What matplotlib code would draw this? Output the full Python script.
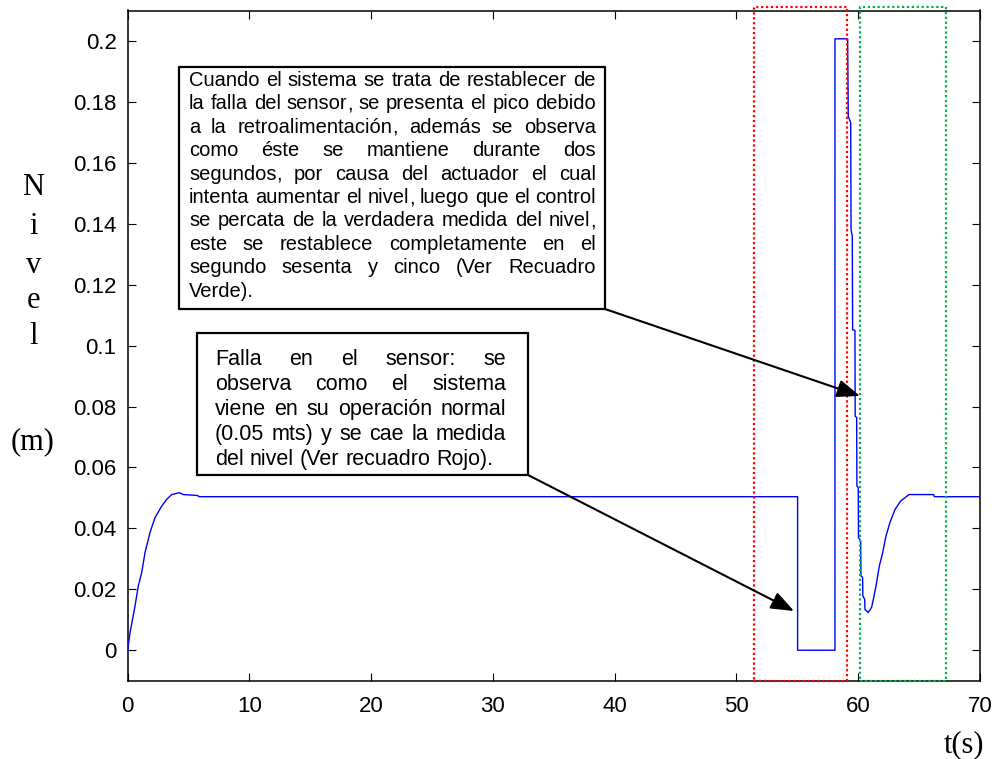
import matplotlib
matplotlib.use("Agg")
import matplotlib.pyplot as plt
from matplotlib.patches import Rectangle

# ---- data -------------------------------------------------------------
t = [0.0, 0.19, 0.60, 0.87, 1.15, 1.42, 1.83, 2.24, 2.79, 3.20, 3.61, 4.24,
     4.57, 5.72, 5.88, 55.02, 55.02, 58.09, 58.09, 59.13, 59.18, 59.38,
     59.41, 59.51, 59.54, 59.73, 59.75, 59.87, 59.89, 60.00, 60.02, 60.20,
     60.22, 60.36, 60.38, 60.53, 60.55, 60.82, 61.10, 61.24, 61.46, 61.73,
     62.01, 62.28, 62.61, 63.02, 63.49, 64.17, 66.20, 66.25, 70.0]
nivel = [0.0, 0.0058, 0.0145, 0.0211, 0.0255, 0.0320, 0.0386, 0.0435, 0.0473,
         0.0495, 0.0511, 0.0517, 0.0511, 0.0508, 0.0504, 0.0504, 0.0, 0.0,
         0.2007, 0.2007, 0.1752, 0.1732, 0.1380, 0.1358, 0.1052, 0.1050,
         0.0768, 0.0764, 0.0539, 0.0534, 0.0370, 0.0358, 0.0244, 0.0239,
         0.0178, 0.0167, 0.0134, 0.0124, 0.0141, 0.0167, 0.0211, 0.0276,
         0.0321, 0.0375, 0.0420, 0.0462, 0.0490, 0.0511, 0.0511, 0.0504, 0.0504]

x_ticks = [0, 10, 20, 30, 40, 50, 60, 70]
x_tick_labels = ["0", "10", "20", "30", "40", "50", "60", "70"]
y_ticks = [0, 0.02, 0.04, 0.06, 0.08, 0.10, 0.12, 0.14, 0.16, 0.18, 0.20]
y_tick_labels = ["0", "0.02", "0.04", "0.06", "0.08", "0.1", "0.12", "0.14",
                 "0.16", "0.18", "0.2"]

# highlighted time windows (s)
falla_window = (51.44, 59.05)
recuperacion_window = (60.14, 67.20)

texto_pico = [
    "Cuando el sistema se trata de restablecer de",
    "la falla del sensor, se presenta el pico debido",
    "a la retroalimentación, además se observa",
    "como éste se mantiene durante dos",
    "segundos, por causa del actuador el cual",
    "intenta aumentar el nivel, luego que el control",
    "se percata de la verdadera medida del nivel,",
    "este se restablece completamente en el",
    "segundo sesenta y cinco (Ver Recuadro",
    "Verde).",
]
texto_falla = [
    "Falla en el sensor: se",
    "observa como el sistema",
    "viene en su operación normal",
    "(0.05 mts) y se cae la medida",
    "del nivel (Ver recuadro Rojo).",
]

# ---- figure -------------------------------------------------------------
W, H = 997, 759
fig = plt.figure(figsize=(W / 100, H / 100), dpi=100)
fig.patch.set_facecolor("white")

ax_l, ax_r, ax_t, ax_b = 127.7, 980.0, 10.5, 680.7
ax = fig.add_axes([ax_l / W, 1 - ax_b / H, (ax_r - ax_l) / W, (ax_b - ax_t) / H])

ax.plot(t, nivel, color=(0, 0, 1), lw=1.0, zorder=3)

ax.set_xlim(0, 70)
ax.set_ylim(-0.01, 0.21)
ax.set_xticks(x_ticks)
ax.set_xticklabels(x_tick_labels)
ax.set_yticks(y_ticks)
ax.set_yticklabels(y_tick_labels)
ax.tick_params(direction="in", top=True, right=True, length=6, width=0.8,
               labelsize=16, colors="black")
ax.tick_params(axis="x", pad=11)
ax.tick_params(axis="y", pad=8)
for lab in ax.get_xticklabels() + ax.get_yticklabels():
    lab.set_family("Liberation Sans")
for sp in ax.spines.values():
    sp.set_linewidth(1.1)

# dotted windows
for (x0, x1), col in ((falla_window, "#ff0000"), (recuperacion_window, "#00b050")):
    ax.add_patch(Rectangle((x0, -0.0100), x1 - x0, 0.2210, fill=False,
                           edgecolor=col, lw=1.6, linestyle=(0, (1, 1.2)),
                           clip_on=False, zorder=4))

# ---- annotation boxes --------------------------------------------------
def px_to_data(px, py):
    x = (px - ax_l) / (ax_r - ax_l) * 70
    y = -0.01 + (ax_b - py) / (ax_b - ax_t) * 0.22
    return x, y


def add_box(left, top, right, bottom):
    x0, y1 = px_to_data(left, top)
    x1, y0 = px_to_data(right, bottom)
    ax.add_patch(Rectangle((x0, y0), x1 - x0, y1 - y0, facecolor="white",
                           edgecolor="black", lw=1.6, zorder=5))


renderer = fig.canvas.get_renderer()
body_font = "Liberation Sans"


def word_pieces(word, yb, size):
    """A word as one or two Text objects; a trailing comma gets its own."""
    parts = [word[:-1], ","] if word.endswith(",") and len(word) > 1 else [word]
    objs = [fig.text(0, yb, p, fontsize=size, family=body_font,
                     va="baseline", ha="left", zorder=10) for p in parts]
    widths = [o.get_window_extent(renderer).width for o in objs]
    return objs, widths


def justified(lines, left, right, first_base, step, size):
    space = 0.278 * size * 100 / 72
    for i, line in enumerate(lines):
        words = line.split(" ")
        yb = 1 - (first_base + i * step) / H
        pieces = [word_pieces(w, yb, size) for w in words]
        totals = [sum(ws) for _, ws in pieces]
        last = i == len(lines) - 1
        if last or len(words) == 1:
            gap = space
        else:
            gap = (right - left - sum(totals)) / (len(words) - 1)
        x = left
        for (objs, ws), tot in zip(pieces, totals):
            xx = x
            for o, w in zip(objs, ws):
                o.set_x(xx / W)
                xx += w
            x += tot + gap


add_box(179, 67, 605, 309)
justified(texto_pico, 189, 596, 86, 23.4, 14.5)

add_box(197, 333, 528, 475)
justified(texto_falla, 215, 506, 365, 25.0, 15.5)

arrow = dict(arrowstyle="-|>,head_length=0.7,head_width=0.27", color="black",
             lw=1.5, shrinkA=0, shrinkB=0, mutation_scale=20)
ax.annotate("", xy=px_to_data(860, 396), xytext=px_to_data(605, 309),
            arrowprops=arrow, zorder=6, annotation_clip=False)
ax.annotate("", xy=px_to_data(794, 611), xytext=px_to_data(528, 475),
            arrowprops=arrow, zorder=6, annotation_clip=False)

# ---- axis titles -------------------------------------------------------
serif = "Liberation Serif"
for ch, py in zip("Nivel", [187.6, 227, 265, 301, 337]):
    fig.text(33.5 / W, 1 - py / H, ch, fontsize=22, family=serif,
             ha="center", va="center")
fig.text(33 / W, 1 - 442 / H, "(m)", fontsize=22, family=serif,
         ha="center", va="center")
fig.text(964 / W, 1 - 745 / H, "t(s)", fontsize=22, family=serif,
         ha="center", va="center")

fig.savefig("out.png", dpi=100, facecolor="white")
